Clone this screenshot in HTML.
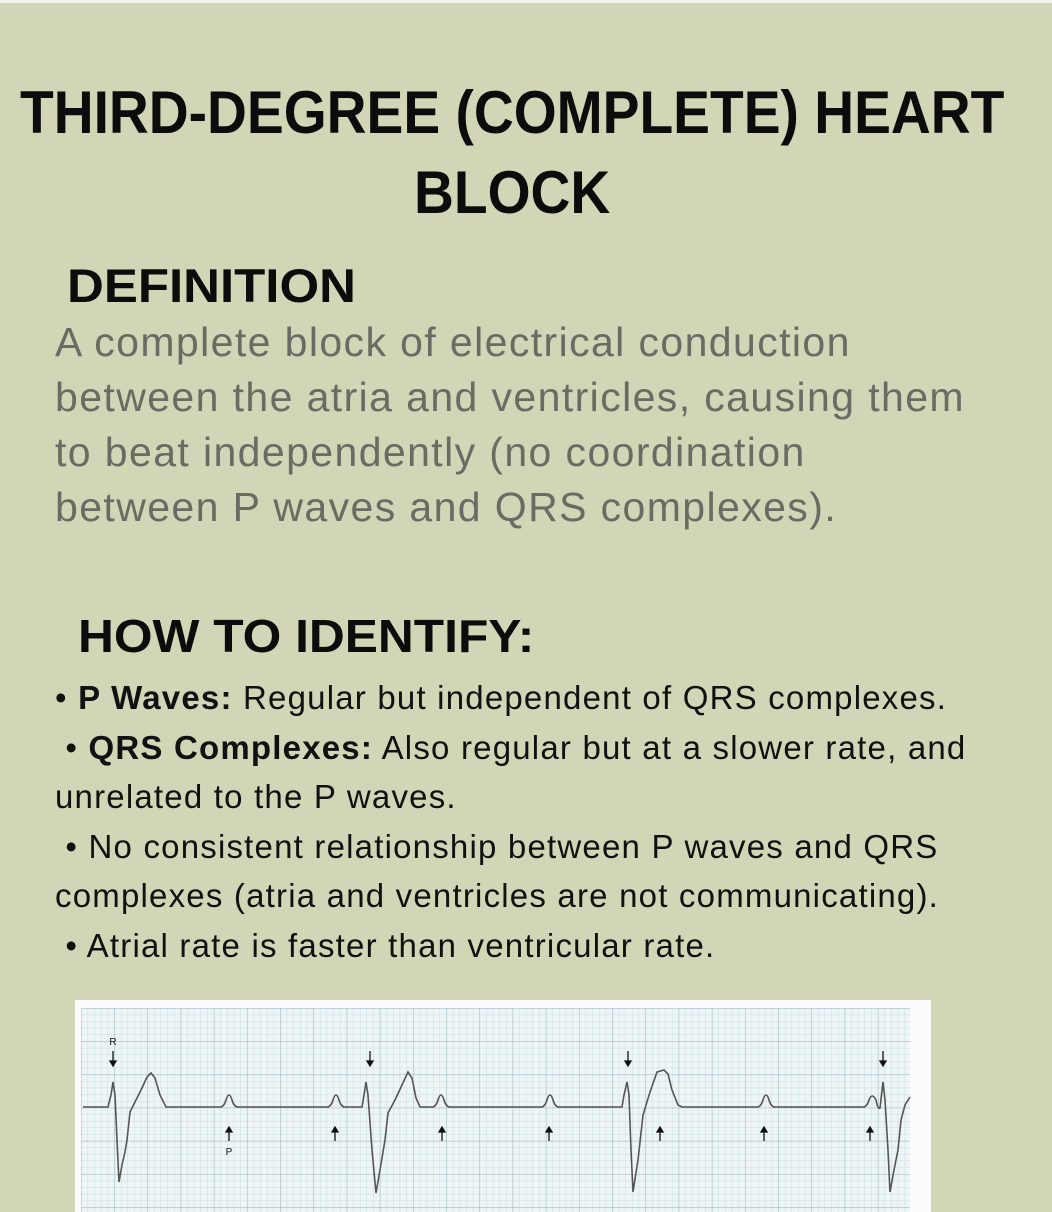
<!DOCTYPE html>
<html><head><meta charset="utf-8"><style>
html,body{margin:0;padding:0}
body{width:1052px;height:1212px;background:#d2d6b6;position:relative;overflow:hidden;font-family:"Liberation Sans",sans-serif}
.topline{position:absolute;left:0;top:0;width:1052px;height:3px;background:#f2f2ec}
.t{position:absolute;white-space:nowrap;font-weight:bold;color:#0c0c0c;transform-origin:left top}
.body{position:absolute;left:55px;top:315px;font-size:41px;letter-spacing:1.4px;line-height:55px;color:#6a6b62;white-space:nowrap}
.list{position:absolute;left:55px;top:673px;font-size:33px;letter-spacing:1.2px;line-height:49.6px;color:#111;white-space:nowrap}
</style></head><body>
<div class="topline"></div>
<div class="t" style="left:20px;top:78px;font-size:60px;transform:scaleX(0.92)">THIRD-DEGREE (COMPLETE) HEART</div>
<div class="t" style="left:414px;top:158px;font-size:60px;transform:scaleX(0.92)">BLOCK</div>
<div class="t" style="left:67px;top:258px;font-size:47px;transform:scaleX(1.085)">DEFINITION</div>
<div class="body">A complete block of electrical conduction<br>between the atria and ventricles, causing them<br>to beat independently (no coordination<br>between P waves and QRS complexes).</div>
<div class="t" style="left:78px;top:609px;font-size:46px;transform:scaleX(1.08)">HOW TO IDENTIFY:</div>
<div class="list">• <b>P Waves:</b> Regular but independent of QRS complexes.<br>&nbsp;• <b>QRS Complexes:</b> Also regular but at a slower rate, and<br>unrelated to the P waves.<br>&nbsp;• No consistent relationship between P waves and QRS<br>complexes (atria and ventricles are not communicating).<br>&nbsp;• Atrial rate is faster than ventricular rate.</div>
<svg style="position:absolute;left:0;top:0" width="1052" height="1212">
<defs>
<pattern id="mn" x="81" y="1008" width="6.64" height="6.64" patternUnits="userSpaceOnUse"><path d="M0 0H6.64M0 0V6.64" stroke="#c9dde0" stroke-width="1" fill="none"/></pattern>
<pattern id="mj" x="81" y="1008" width="33.2" height="33.2" patternUnits="userSpaceOnUse"><path d="M0 0H33.2M0 0V33.2" stroke="#a8bfc4" stroke-width="1.2" fill="none"/></pattern>
</defs>
<rect x="75" y="1000" width="856" height="212" fill="#fbfcfb"/>
<rect x="81" y="1008" width="829" height="204" fill="#eef5f6"/>
<rect x="81" y="1008" width="829" height="204" fill="url(#mn)"/>
<rect x="81" y="1008" width="829" height="204" fill="url(#mj)"/>
<path fill="none" stroke="#555" stroke-width="1.6" d="M83 1107 L108 1107 L111 1095 L113 1082 L115 1095 L117 1140 L119 1182 L122 1165 L125 1152 L127 1140 L130 1112 L136 1100 L142 1088 L147 1077 L151 1073 L155 1078 L160 1095 L166 1107 L220 1107 Q224 1107 226 1100 Q229 1090 232 1100 Q234 1107 238 1107 L327 1107 Q331 1107 333 1100 Q336 1090 339 1100 Q341 1107 345 1107 L362 1107 L364 1095 L366 1082 L368 1095 L372 1150 L376 1193 L380 1170 L385 1140 L388 1113 L395 1100 L402 1085 L408 1072 L412 1078 L416 1098 L420 1107 L432 1107 Q436 1107 438 1100 Q441 1090 444 1100 Q446 1107 450 1107 L541 1107 Q545 1107 547 1100 Q550 1090 553 1100 Q555 1107 559 1107 L622 1107 L624 1095 L627 1082 L629 1095 L631 1150 L633 1192 L638 1160 L643 1115 L650 1092 L657 1072 L664 1070 L668 1074 L672 1090 L678 1105 L682 1107 L757 1107 Q761 1107 763 1100 Q766 1090 769 1100 Q771 1107 775 1107 L863 1107 Q867 1107 869 1100 Q872 1092 876 1100 Q878 1110 880 1108 L883 1082 L885 1100 L888 1150 L890 1192 L894 1170 L898 1150 L901 1120 L905 1105 L910 1097"/>
<g fill="#111">
<text x="113" y="1045" font-size="10" text-anchor="middle" font-family="Liberation Sans">R</text>
<text x="229" y="1155" font-size="10" text-anchor="middle" font-family="Liberation Sans">P</text>
</g>
<g stroke="#111" stroke-width="1.3" fill="#111">
<path d="M113 1051V1062"/><path d="M110 1061L116 1061L113 1066Z"/>
<path d="M370 1051V1062"/><path d="M367 1061L373 1061L370 1066Z"/>
<path d="M628 1051V1062"/><path d="M625 1061L631 1061L628 1066Z"/>
<path d="M883 1051V1062"/><path d="M880 1061L886 1061L883 1066Z"/>
</g>
<g stroke="#111" stroke-width="1.3" fill="#111">
<path d="M229 1131V1141"/><path d="M226 1132L232 1132L229 1127Z"/>
<path d="M335 1131V1141"/><path d="M332 1132L338 1132L335 1127Z"/>
<path d="M442 1131V1141"/><path d="M439 1132L445 1132L442 1127Z"/>
<path d="M549 1131V1141"/><path d="M546 1132L552 1132L549 1127Z"/>
<path d="M660 1131V1141"/><path d="M657 1132L663 1132L660 1127Z"/>
<path d="M764 1131V1141"/><path d="M761 1132L767 1132L764 1127Z"/>
<path d="M870 1131V1141"/><path d="M867 1132L873 1132L870 1127Z"/>
</g>
</svg>
</body></html>
